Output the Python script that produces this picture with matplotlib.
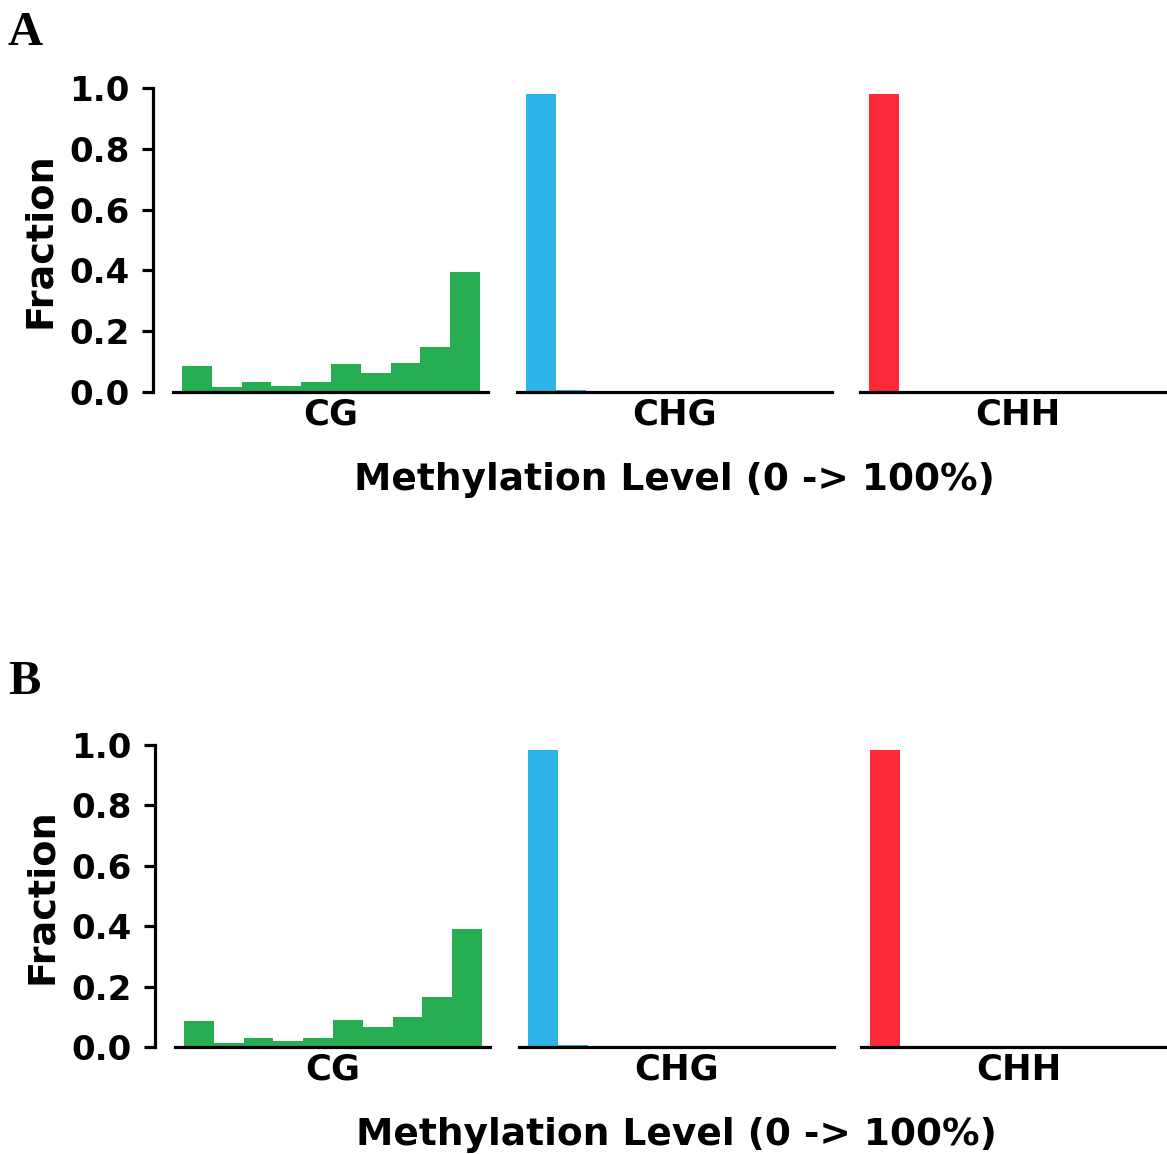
import matplotlib
matplotlib.use("Agg")
import matplotlib.pyplot as plt
import numpy as np

contexts = ['CG', 'CHG', 'CHH']
colors = ['#27ae52', '#2db3e8', '#fc2a38']

# fraction of sites per methylation-level bin (10 bins, 0 -> 100%)
cg_a = [0.087, 0.015, 0.033, 0.021, 0.033, 0.091, 0.061, 0.094, 0.149, 0.396]
chg_a = [0.980, 0.005, 0.001, 0.0, 0.0, 0.0, 0.0, 0.0, 0.0, 0.0]
chh_a = [0.980, 0.004, 0.001, 0.0, 0.0, 0.0, 0.0, 0.0, 0.0, 0.0]

cg_b = [0.087, 0.013, 0.030, 0.021, 0.030, 0.088, 0.067, 0.100, 0.166, 0.391]
chg_b = [0.985, 0.005, 0.001, 0.0, 0.0, 0.0, 0.0, 0.0, 0.0, 0.0]
chh_b = [0.985, 0.004, 0.001, 0.0, 0.0, 0.0, 0.0, 0.0, 0.0, 0.0]

yticks = [0.0, 0.2, 0.4, 0.6, 0.8, 1.0]
n_bins = 10
edges = np.linspace(0, 1, n_bins + 1)

W, H = 1167, 1154
fig = plt.figure(figsize=(W / 100, H / 100), dpi=100)
plt.rcParams['font.family'] = 'DejaVu Sans'


def px_axes(x0, y_top, y_bot, w=315):
    return fig.add_axes([x0 / W, 1 - y_bot / H, w / W, (y_bot - y_top) / H])


def draw_panel(letter, data, x_starts, y_top, y_bot, letter_y):
    for i, (ctx, vals, col) in enumerate(zip(contexts, data, colors)):
        ax = px_axes(x_starts[i], y_top, y_bot)
        ax.bar(edges[:-1], vals, width=np.diff(edges), align='edge',
               color=col, linewidth=0)
        ax.set_xlim(-0.03, 1.027)
        ax.set_ylim(0, 1)
        ax.set_xticks([])
        for s in ['top', 'right']:
            ax.spines[s].set_visible(False)
        ax.spines['bottom'].set_linewidth(2.3)
        ax.set_xlabel(ctx, fontsize=25.5, fontweight='bold', labelpad=4)
        if i == 0:
            ax.spines['left'].set_position(('outward', 14.4))
            ax.spines['left'].set_linewidth(2.3)
            ax.set_yticks(yticks)
            ax.set_yticklabels([f'{t:.1f}' for t in yticks],
                               fontsize=24.5, fontweight='bold')
            ax.tick_params(axis='y', length=8, width=2.3, pad=9)
            ax.set_ylabel('Fraction', fontsize=27.5, fontweight='bold',
                          labelpad=8)
        else:
            ax.spines['left'].set_visible(False)
            ax.set_yticks([])
        if i == 1:
            ax.text(0.5, -98 / (y_bot - y_top), 'Methylation Level (0 -> 100%)',
                    transform=ax.transAxes, ha='center', va='baseline',
                    fontsize=27, fontweight='bold')
    fig.text(8 / W, 1 - letter_y / H, letter, fontsize=35, fontweight='bold',
             family='Liberation Serif', ha='left', va='baseline')


draw_panel('A', [cg_a, chg_a, chh_a], [173, 517, 860], 88, 392, 45)
draw_panel('B', [cg_b, chg_b, chh_b], [175, 519, 861], 745, 1047, 694)

fig.savefig('out.png', dpi=100)
